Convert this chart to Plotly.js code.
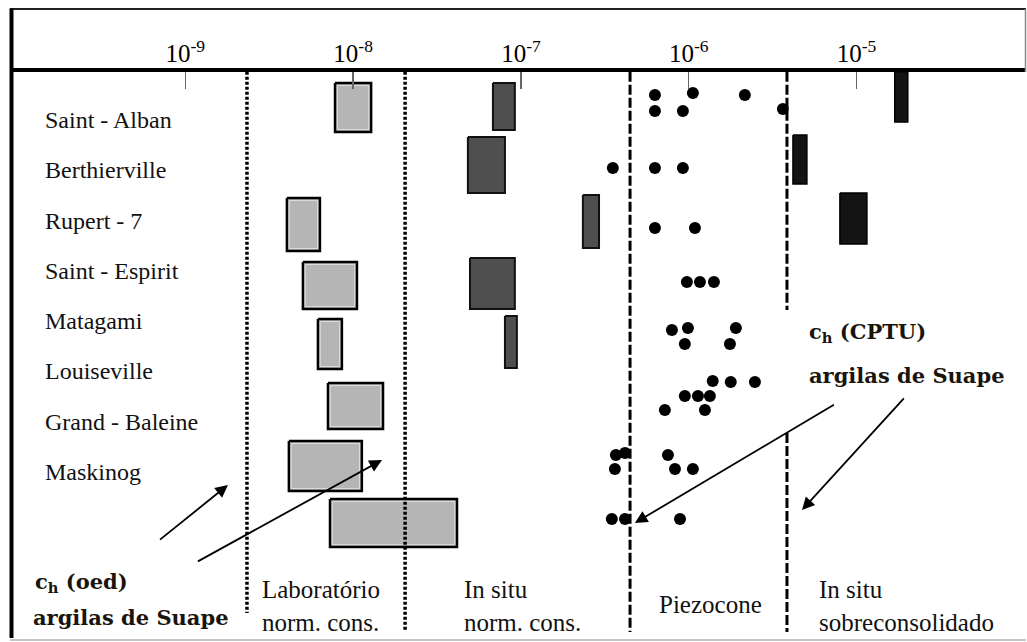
<!DOCTYPE html>
<html>
<head>
<meta charset="utf-8">
<script src="https://cdn.plot.ly/plotly-3.0.1.min.js"></script>
<style>
  html, body { margin: 0; padding: 0; background: #fff; }
  #chart { width: 1027px; height: 642px; }
</style>
</head>
<body>
<div id="chart"></div>
<script>
// Coefficient of consolidation ch (m²/s) by site and by method, log scale.
// Rows run top to bottom: 0..7 are the named sites, 8 is the Suape clay.
const sites = ['Saint - Alban', 'Berthierville', 'Rupert - 7', 'Saint - Espirit',
               'Matagami', 'Louiseville', 'Grand - Baleine', 'Maskinog'];

const tickVals = [1e-9, 1e-8, 1e-7, 1e-6, 1e-5];
const tickText = ['10<sup>-9</sup>', '10<sup>-8</sup>', '10<sup>-7</sup>', '10<sup>-6</sup>', '10<sup>-5</sup>'];

// Laboratory, normally consolidated (oedometer) ranges
const labLow    = [7.80e-9, 4.03e-9, 5.02e-9, 6.17e-9, 7.08e-9, 4.14e-9, 7.28e-9];
const labHigh   = [1.28e-8, 6.34e-9, 1.054e-8, 8.57e-9, 1.507e-8, 1.127e-8, 4.16e-8];
const labTop    = [-0.775, 1.511, 2.783, 3.917, 5.189, 6.342, 7.495];
const labBottom = [0.199, 2.565, 3.718, 4.911, 6.103, 7.336, 8.449];

// In situ, normally consolidated ranges
const ncLow    = [6.81e-8, 4.83e-8, 2.34e-7, 4.97e-8, 8.03e-8];
const ncHigh   = [9.20e-8, 8.03e-8, 2.92e-7, 9.20e-8, 9.46e-8];
const ncTop    = [-0.775, 0.298, 1.451, 2.704, 3.857];
const ncBottom = [0.159, 1.412, 2.505, 3.718, 4.891];

// In situ, overconsolidated ranges
const ocLow    = [1.69e-5, 4.18e-6, 7.96e-6];
const ocHigh   = [2.02e-5, 5.06e-6, 1.153e-5];
const ocTop    = [-1.0, 0.258, 1.412];
const ocBottom = [0.0, 1.233, 2.425];

// Piezocone (CPTU) results
const piezoCh = [
  6.29e-7, 1.059e-6, 2.16e-6, 6.29e-7, 9.23e-7, 3.64e-6,
  3.53e-7, 6.29e-7, 9.23e-7,
  6.29e-7, 1.089e-6,
  9.75e-7, 1.166e-6, 1.413e-6,
  7.94e-7, 9.89e-7, 1.91e-6, 9.48e-7, 1.76e-6,
  1.39e-6, 1.78e-6, 2.48e-6, 9.48e-7, 1.135e-6, 1.337e-6, 7.21e-7, 1.249e-6,
  3.68e-7, 4.17e-7, 3.63e-7, 7.52e-7, 8.28e-7, 1.059e-6,
  3.48e-7, 4.17e-7, 8.87e-7
];
const piezoRow = [
  -0.537, -0.577, -0.537, -0.219, -0.219, -0.258,
  0.915, 0.915, 0.915,
  2.107, 2.107,
  3.181, 3.181, 3.181,
  4.135, 4.095, 4.095, 4.414, 4.414,
  5.149, 5.169, 5.169, 5.447, 5.447, 5.447, 5.726, 5.726,
  6.620, 6.581, 6.899, 6.620, 6.899, 6.899,
  7.893, 7.893, 7.893
];

// Limits between the method zones
const zoneLimits = [2.33e-9, 2.04e-8, 4.47e-7, 3.85e-6];

const SERIF = 'Liberation Serif, Times New Roman, serif';
const BOLD_SERIF = 'DejaVu Serif, serif';

function boxTrace(x0, x1, y0, y1, fill, edge, width) {
  return {
    type: 'scatter', mode: 'lines',
    x: [x0, x1, x1, x0, x0], y: [y0, y0, y1, y1, y0],
    fill: 'toself', fillcolor: fill,
    line: { color: edge, width: width },
    hoverinfo: 'skip', showlegend: false
  };
}

// thin light rim just inside a laboratory box
function rimTrace(x0, x1, y0, y1) {
  const kx = Math.pow(10, 0.014), dy = 0.05;
  return {
    type: 'scatter', mode: 'lines',
    x: [x0 * kx, x1 / kx, x1 / kx, x0 * kx, x0 * kx],
    y: [y0 + dy, y0 + dy, y1 - dy, y1 - dy, y0 + dy],
    line: { color: '#dcdcdc', width: 1 }, hoverinfo: 'skip', showlegend: false
  };
}

const traces = [];
labLow.forEach((v, i) => {
  traces.push(boxTrace(v, labHigh[i], labTop[i], labBottom[i], '#b5b5b5', '#000', 2.5));
  traces.push(rimTrace(v, labHigh[i], labTop[i], labBottom[i]));
});
ncLow.forEach((v, i) => traces.push(boxTrace(v, ncHigh[i], ncTop[i], ncBottom[i], '#4f4f4f', '#111', 2)));
ocLow.forEach((v, i) => traces.push(boxTrace(v, ocHigh[i], ocTop[i], ocBottom[i], '#141414', '#000', 1.5)));

// zone limits: dotted for the laboratory band, dashed for the in situ bands
const lineTop = -1.0;
traces.push({ type: 'scatter', mode: 'lines', x: [zoneLimits[0], zoneLimits[0]], y: [lineTop, 9.76],
  line: { color: '#000', width: 3.5, dash: '3px,2px' }, hoverinfo: 'skip' });
traces.push({ type: 'scatter', mode: 'lines', x: [zoneLimits[1], zoneLimits[1]], y: [lineTop, 10.12],
  line: { color: '#000', width: 3.5, dash: '3px,2px' }, hoverinfo: 'skip' });
traces.push({ type: 'scatter', mode: 'lines', x: [zoneLimits[2], zoneLimits[2]], y: [lineTop, 10.14],
  line: { color: '#000', width: 3, dash: '10px,3px' }, hoverinfo: 'skip' });
traces.push({ type: 'scatter', mode: 'lines',
  x: [zoneLimits[3], zoneLimits[3], null, zoneLimits[3], zoneLimits[3]],
  y: [lineTop, 3.738, null, 6.183, 10.14],
  line: { color: '#000', width: 3, dash: '10px,3px' }, connectgaps: false, hoverinfo: 'skip' });

traces.push({
  type: 'scatter', mode: 'markers', x: piezoCh, y: piezoRow,
  marker: { color: '#000', size: 12, line: { width: 0 } }, hoverinfo: 'skip'
});

const annotations = [];
sites.forEach((s, i) => annotations.push({
  xref: 'paper', yref: 'y', x: 0.0306, y: i - 0.04, xanchor: 'left', yanchor: 'middle',
  text: s, showarrow: false, font: { family: SERIF, size: 24, color: '#111' }
}));

const zoneLabels = [
  { text: 'Laboratório<br>norm. cons.', x: 0.2446, y: 9.62 },
  { text: 'In situ<br>norm. cons.', x: 0.4438, y: 9.62 },
  { text: 'Piezocone', x: 0.6361, y: 9.60 },
  { text: 'In situ<br>sobreconsolidado', x: 0.7939, y: 9.62 }
];
zoneLabels.forEach(z => annotations.push({
  xref: 'paper', yref: 'y', x: z.x, y: z.y, xanchor: 'left', yanchor: 'middle', align: 'left',
  text: z.text, showarrow: false, font: { family: SERIF, size: 25, color: '#111' }
}));

const boldLabels = [
  { text: 'c<sub>h</sub> (oed)', x: 0.0207, y: 9.145 },
  { text: 'argilas de Suape', x: 0.0187, y: 9.841 },
  { text: 'c<sub>h</sub> (CPTU)', x: 0.784, y: 4.175 },
  { text: 'argilas de Suape', x: 0.784, y: 5.030 }
];
boldLabels.forEach(b => annotations.push({
  xref: 'paper', yref: 'y', x: b.x, y: b.y, xanchor: 'left', yanchor: 'middle',
  text: '<b>' + b.text + '</b>', showarrow: false,
  font: { family: BOLD_SERIF, size: 21, color: '#1a140c' }
}));

// arrows from the Suape labels to the Suape results (x in log10 units)
const arrows = [
  { x: -8.746, y: 7.217, ax: -9.169, ay: 8.350 },
  { x: -7.828, y: 6.720, ax: -8.943, ay: 8.767 },
  { x: -6.321, y: 7.972, ax: -5.117, ay: 5.586 },
  { x: -5.325, y: 7.714, ax: -4.700, ay: 5.427 }
];
arrows.forEach(a => annotations.push({
  xref: 'x', yref: 'y', axref: 'x', ayref: 'y', x: a.x, y: a.y, ax: a.ax, ay: a.ay,
  text: ' ', showarrow: true, arrowhead: 2, arrowsize: 1.4, arrowwidth: 1.8, arrowcolor: '#000'
}));

const shapes = [
  // header box above the axis
  { type: 'line', xref: 'paper', yref: 'paper', x0: -0.002, x1: 1.0, y0: 1.111, y1: 1.111,
    line: { color: '#222', width: 2 } },
  { type: 'line', xref: 'paper', yref: 'paper', x0: 0.9995, x1: 0.9995, y0: 1.0, y1: 1.111,
    line: { color: '#888', width: 1.5 } },
  // thick left edge
  { type: 'line', xref: 'paper', yref: 'paper', x0: -0.0005, x1: -0.0005, y0: 0.0035, y1: 1.112,
    line: { color: '#000', width: 4 } },
  // bottom edge
  { type: 'line', xref: 'paper', yref: 'paper', x0: -0.002, x1: 1.0, y0: 0.0, y1: 0.0,
    line: { color: '#b0b0b0', width: 1.5 } }
];

const layout = {
  width: 1027, height: 642, autosize: false,
  margin: { l: 12, r: 1, t: 72, b: 2, pad: 0 },
  paper_bgcolor: '#fff', plot_bgcolor: '#fff',
  showlegend: false, hovermode: false,
  xaxis: {
    type: 'log', side: 'top', range: [-10.033, -3.990], fixedrange: true,
    showline: true, linecolor: '#000', linewidth: 4, mirror: false,
    showgrid: false, zeroline: false,
    ticks: 'inside', ticklen: 17, tickwidth: 1.5, tickcolor: '#666',
    tickmode: 'array', tickvals: tickVals, ticktext: tickText,
    ticklabelstandoff: -4,
    tickfont: { family: SERIF, size: 25, color: '#000' }
  },
  yaxis: {
    range: [10.298, -0.994], fixedrange: true,
    showticklabels: false, showgrid: false, zeroline: false, showline: false, ticks: ''
  },
  annotations: annotations,
  shapes: shapes
};

Plotly.newPlot('chart', traces, layout, { staticPlot: true, displayModeBar: false });
</script>
</body>
</html>
